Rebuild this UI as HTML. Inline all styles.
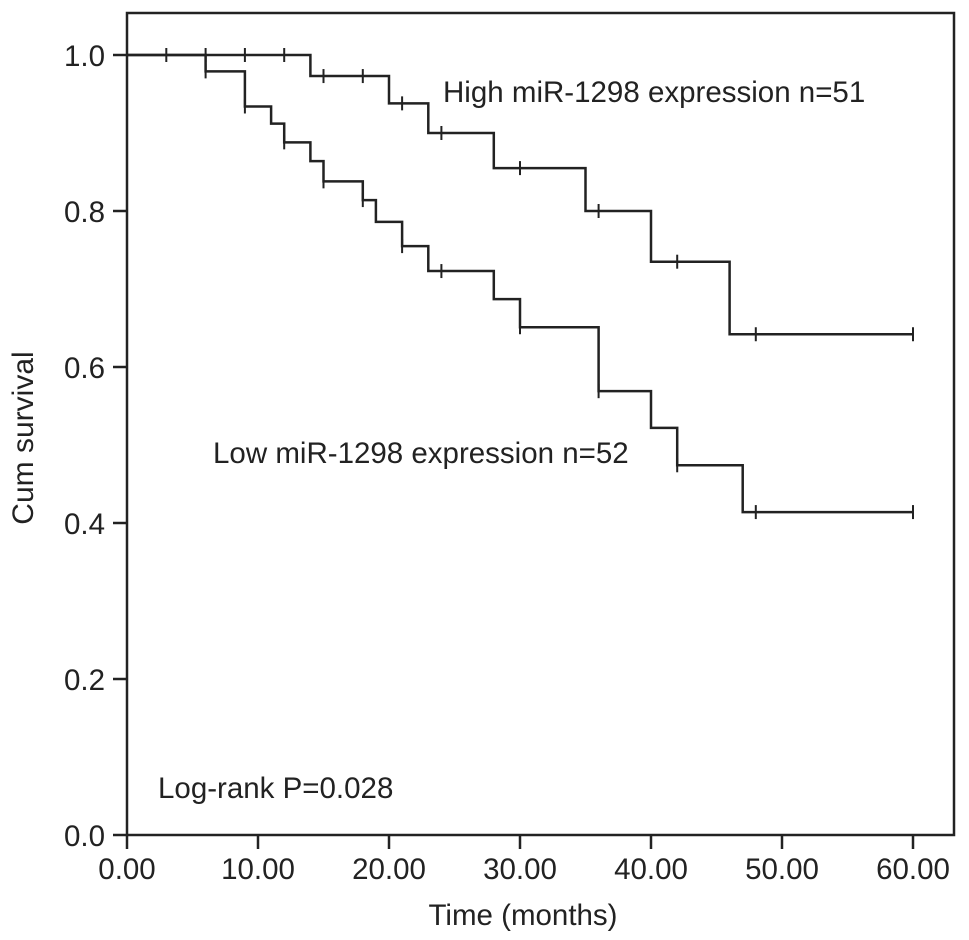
<!DOCTYPE html>
<html><head><meta charset="utf-8"><style>
html,body{margin:0;padding:0;background:#fff;}
svg{display:block;font-family:"Liberation Sans",Arial,sans-serif;}
</style></head><body>
<svg id="chart" width="969" height="940" viewBox="0 0 969 940" xmlns="http://www.w3.org/2000/svg">
<g id="axes"></g>
<g id="series"></g>
<text x="443" y="102" font-size="29.5" fill="#222">High miR-1298 expression n=51</text>
<text x="213" y="463" font-size="29.5" fill="#222">Low miR-1298 expression n=52</text>
<text x="158" y="798" font-size="29.5" fill="#222">Log-rank P=0.028</text>
<text x="523" y="925" font-size="29.5" text-anchor="middle" fill="#222">Time (months)</text>
<text transform="translate(33,438) rotate(-90)" font-size="30" text-anchor="middle" fill="#222">Cum survival</text>
</svg>
<script>
const xTicks = [0,10,20,30,40,50,60];
const xTickLabels = ["0.00","10.00","20.00","30.00","40.00","50.00","60.00"];
const yTicks = [0,0.2,0.4,0.6,0.8,1.0];
const yTickLabels = ["0.0","0.2","0.4","0.6","0.8","1.0"];
const highTimes = [14,20,23,28,35,40,46];
const highSurv = [0.973,0.938,0.90,0.855,0.80,0.735,0.642];
const highCensor = [3,6,9,12,15,18,21,24,30,36,42,48,60];
const lowTimes = [6,9,11,12,14,15,18,19,21,23,28,30,36,40,42,47];
const lowSurv = [0.979,0.934,0.912,0.888,0.864,0.838,0.814,0.786,0.755,0.723,0.687,0.651,0.569,0.522,0.474,0.414];
const lowCensor = [6,9,12,15,18,21,24,30,36,42,48,60];

const NS="http://www.w3.org/2000/svg";
const X0=127, X1=954, Y0=835, YT=13;
const xs = t => X0 + t*(913-127)/60;
const ys = v => Y0 - v*780;
function mk(tag, attrs, parent){const e=document.createElementNS(NS,tag);for(const k in attrs)e.setAttribute(k,attrs[k]);parent.appendChild(e);return e;}
const axes=document.getElementById('axes'), series=document.getElementById('series');
const frame=mk('rect',{x:X0,y:YT,width:X1-X0,height:Y0-YT,fill:'none',stroke:'#222','stroke-width':2.5},axes);


xTicks.forEach((t,i)=>{
  const l=mk('line',{x1:xs(t),x2:xs(t),y1:Y0,y2:Y0+14,stroke:'#222','stroke-width':2.5},axes);
  
  
  const tx=mk('text',{x:xs(t),y:Y0+44,'font-size':29.5,'text-anchor':'middle',fill:'#222'},axes);
  tx.textContent=xTickLabels[i];
  
  
});
yTicks.forEach((v,i)=>{
  const l=mk('line',{x1:X0-14,x2:X0,y1:ys(v),y2:ys(v),stroke:'#222','stroke-width':2.5},axes);
  
  
  const tx=mk('text',{x:X0-22,y:ys(v)+11,'font-size':29.5,'text-anchor':'end',fill:'#222'},axes);
  tx.textContent=yTickLabels[i];
  
  
});
function survAt(times,surv,t){let s=1;for(let i=0;i<times.length;i++){if(times[i]<=t)s=surv[i];}return s;}
function draw(times,surv,censor,name){
  let d='M'+xs(0)+','+ys(1);
  times.forEach((t,i)=>{d+=' H'+xs(t)+' V'+ys(surv[i]);});
  d+=' H'+xs(60);
  const p=mk('path',{d:d,fill:'none',stroke:'#222','stroke-width':2.5},series);
  
  
  censor.forEach(t=>{
    const y=ys(survAt(times,surv,t));
    const c=mk('line',{x1:xs(t),x2:xs(t),y1:y-7,y2:y+7,stroke:'#222','stroke-width':2},series);
    
    
  });
}
draw(highTimes,highSurv,highCensor,'high-expression');
draw(lowTimes,lowSurv,lowCensor,'low-expression');
</script>
</body></html>
